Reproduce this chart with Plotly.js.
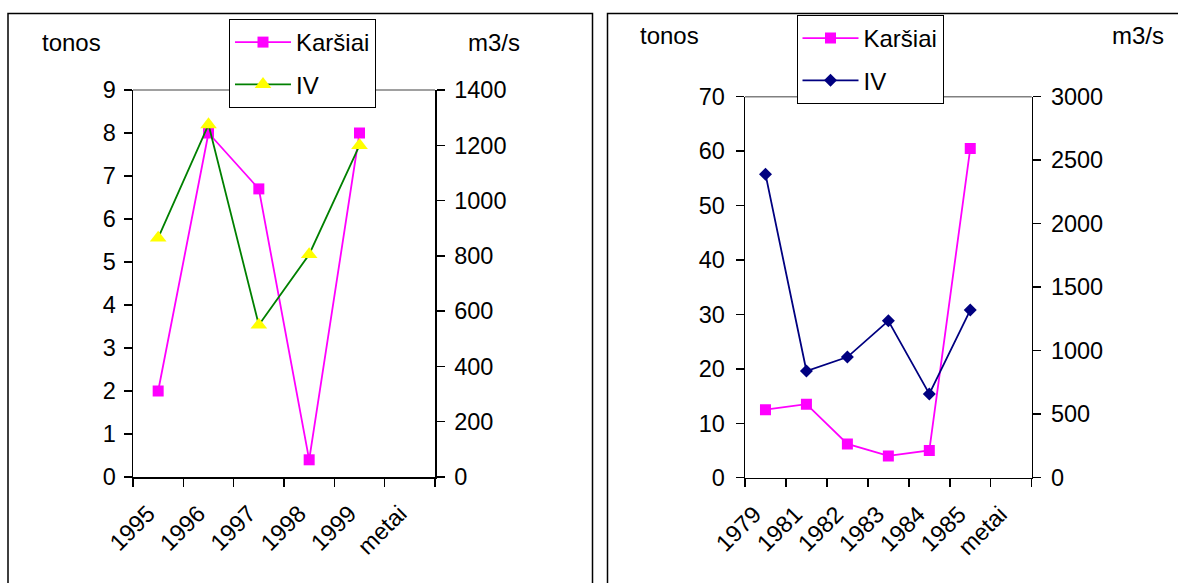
<!DOCTYPE html>
<html>
<head>
<meta charset="utf-8">
<script src="https://cdn.plot.ly/plotly-3.0.1.min.js"></script>
<style>html,body{margin:0;padding:0;background:#fff;}#chart{width:1178px;height:583px;}</style>
</head>
<body>
<div id="chart"></div>
<script>
// ---- data ----
const leftCategories = ["1995", "1996", "1997", "1998", "1999", "metai"];
const leftYears = ["1995", "1996", "1997", "1998", "1999"];
const leftKarsiai = [2.0, 8.0, 6.7, 0.4, 8.0];          // tonos
const leftIV = [865, 1275, 550, 805, 1200];             // m3/s

const rightCategories = ["1979", "1981", "1982", "1983", "1984", "1985", "metai"];
const rightYears = ["1979", "1981", "1982", "1983", "1984", "1985"];
const rightKarsiai = [12.5, 13.5, 6.2, 4.0, 5.0, 60.5]; // tonos
const rightIV = [2390, 840, 950, 1235, 660, 1320];      // m3/s

const seriesNames = ["Karšiai", "IV"];
const unitLeft = "tonos";
const unitRight = "m3/s";

// ---- styling ----
const FONT = "Liberation Sans, Arial, Helvetica, sans-serif";
const FS = 23.5;
const FT = 24;
const W = 1178, H = 583;
const px = v => v / W;
const py = v => 1 - v / H;

const tickBase = {
  ticklen: 8, tickwidth: 1.5, tickcolor: "#000",
  showgrid: false, zeroline: false, automargin: false, fixedrange: true,
  tickfont: {family: FONT, size: FS, color: "#000"}
};
const lineBase = {showline: true, linecolor: "#000", linewidth: 1.5};

const traces = [
  {x: leftYears, y: leftKarsiai, name: seriesNames[0], xaxis: "x", yaxis: "y",
   mode: "lines+markers", line: {color: "#FF00FF", width: 1.8},
   marker: {symbol: "square", size: 11, color: "#FF00FF"},
   legend: "legend", legendgroup: "a", hoverinfo: "skip"},
  {x: leftYears, y: leftIV, name: seriesNames[1], xaxis: "x", yaxis: "y2",
   mode: "lines+markers", line: {color: "#008000", width: 1.8},
   marker: {symbol: "triangle-up", size: 14.5, color: "#FFFF00"},
   legend: "legend", legendgroup: "b", hoverinfo: "skip"},
  {x: rightYears, y: rightKarsiai, name: seriesNames[0], xaxis: "x2", yaxis: "y3",
   mode: "lines+markers", line: {color: "#FF00FF", width: 1.8},
   marker: {symbol: "square", size: 11, color: "#FF00FF"},
   legend: "legend2", legendgroup: "c", hoverinfo: "skip"},
  {x: rightYears, y: rightIV, name: seriesNames[1], xaxis: "x2", yaxis: "y4",
   mode: "lines+markers", line: {color: "#000080", width: 1.8},
   marker: {symbol: "diamond", size: 10, color: "#000080"},
   legend: "legend2", legendgroup: "d", hoverinfo: "skip"}
];

const leftX = [px(133), px(435)];
const leftY = [1 - 477 / H, 1 - 90 / H];
const rightX = [px(745), px(1031.7)];
const rightY = [1 - 477.7 / H, 1 - 96.7 / H];

const legendBase = {
  bgcolor: "#fff", bordercolor: "#000", borderwidth: 1,
  font: {family: FONT, size: FT, color: "#000"},
  xanchor: "left", yanchor: "top", traceorder: "grouped", tracegroupgap: 8,
  itemwidth: 56, itemclick: false, itemdoubleclick: false
};

const layout = {
  width: W, height: H, autosize: false,
  margin: {l: 0, r: 0, t: 0, b: 0, pad: 0},
  paper_bgcolor: "#fff", plot_bgcolor: "rgba(0,0,0,0)",
  font: {family: FONT, size: FS, color: "#000"},
  showlegend: true,
  // left chart
  xaxis: Object.assign({}, tickBase, lineBase, {
    domain: leftX, anchor: "y", type: "category", categoryorder: "array",
    categoryarray: leftCategories, range: [-0.5, leftCategories.length - 0.5],
    tickson: "boundaries", ticks: "outside", tickangle: -45,
    ticklabelstandoff: 12, ticklabelshift: -10
  }),
  yaxis: Object.assign({}, tickBase, lineBase, {
    domain: leftY, anchor: "x", range: [0, 9], dtick: 1, tick0: 0, ticks: "outside",
    ticklabelstandoff: 3
  }),
  yaxis2: Object.assign({}, tickBase, lineBase, {
    overlaying: "y", side: "right", anchor: "x", range: [0, 1400], dtick: 200, tick0: 0,
    ticks: "outside", ticklabelstandoff: 5
  }),
  xaxis5: Object.assign({}, tickBase, {
    overlaying: "x", anchor: "y", side: "bottom", type: "linear",
    range: [-0.5, leftCategories.length - 0.5], tick0: -0.5, dtick: 1,
    ticks: "inside", showticklabels: false, showline: false
  }),
  yaxis5: Object.assign({}, tickBase, {
    overlaying: "y", side: "right", anchor: "x", range: [0, 1400], dtick: 200, tick0: 0,
    ticks: "inside", showticklabels: false, showline: false
  }),
  // right chart
  xaxis2: Object.assign({}, tickBase, lineBase, {
    domain: rightX, anchor: "y3", type: "category", categoryorder: "array",
    categoryarray: rightCategories, range: [-0.5, rightCategories.length - 0.5],
    tickson: "boundaries", ticks: "outside", tickangle: -45,
    ticklabelstandoff: 12, ticklabelshift: -11
  }),
  yaxis3: Object.assign({}, tickBase, lineBase, {
    domain: rightY, anchor: "x2", range: [0, 70], dtick: 10, tick0: 0, ticks: "outside",
    ticklabelstandoff: 6
  }),
  yaxis4: Object.assign({}, tickBase, lineBase, {
    overlaying: "y3", side: "right", anchor: "x2", range: [0, 3000], dtick: 500, tick0: 0,
    ticks: "outside", ticklabelstandoff: 5
  }),
  xaxis6: Object.assign({}, tickBase, {
    overlaying: "x2", anchor: "y3", side: "bottom", type: "linear",
    range: [-0.5, rightCategories.length - 0.5], tick0: -0.5, dtick: 1,
    ticks: "inside", showticklabels: false, showline: false
  }),
  yaxis6: Object.assign({}, tickBase, {
    overlaying: "y3", side: "left", anchor: "x2", range: [0, 70], dtick: 10, tick0: 0,
    ticks: "inside", showticklabels: false, showline: false
  }),
  yaxis7: Object.assign({}, tickBase, {
    overlaying: "y3", side: "right", anchor: "x2", range: [0, 3000], dtick: 500, tick0: 0,
    ticks: "inside", showticklabels: false, showline: false
  }),
  legend: Object.assign({}, legendBase, {x: px(229), y: py(19)}),
  legend2: Object.assign({}, legendBase, {x: px(796.5), y: py(15)}),
  shapes: [
    // outer chart borders
    {type: "rect", xref: "paper", yref: "paper", x0: px(8), x1: px(592.5), y0: -0.2, y1: py(13.5),
     line: {color: "#000", width: 1.5}, layer: "below"},
    {type: "rect", xref: "paper", yref: "paper", x0: px(607.5), x1: 1.2, y0: -0.2, y1: py(13.5),
     line: {color: "#000", width: 1.5}, layer: "below"},
    // plot-area top border (gray)
    {type: "line", xref: "x domain", yref: "y domain", x0: 0, x1: 1, y0: 1, y1: 1,
     line: {color: "#808080", width: 1.5}, layer: "below"},
    {type: "line", xref: "x2 domain", yref: "y3 domain", x0: 0, x1: 1, y0: 1, y1: 1,
     line: {color: "#808080", width: 1.5}, layer: "below"}
  ],
  annotations: [
    {text: unitLeft, xref: "paper", yref: "paper", x: px(40), y: py(42.5), xanchor: "left", yanchor: "middle", showarrow: false, font: {family: FONT, size: FT}},
    {text: unitRight, xref: "paper", yref: "paper", x: px(466), y: py(42.5), xanchor: "left", yanchor: "middle", showarrow: false, font: {family: FONT, size: FT}},
    {text: unitLeft, xref: "paper", yref: "paper", x: px(638), y: py(36), xanchor: "left", yanchor: "middle", showarrow: false, font: {family: FONT, size: FT}},
    {text: unitRight, xref: "paper", yref: "paper", x: px(1110), y: py(36), xanchor: "left", yanchor: "middle", showarrow: false, font: {family: FONT, size: FT}}
  ]
};

Plotly.newPlot("chart", traces, layout, {displayModeBar: false, staticPlot: true});
</script>
</body>
</html>
